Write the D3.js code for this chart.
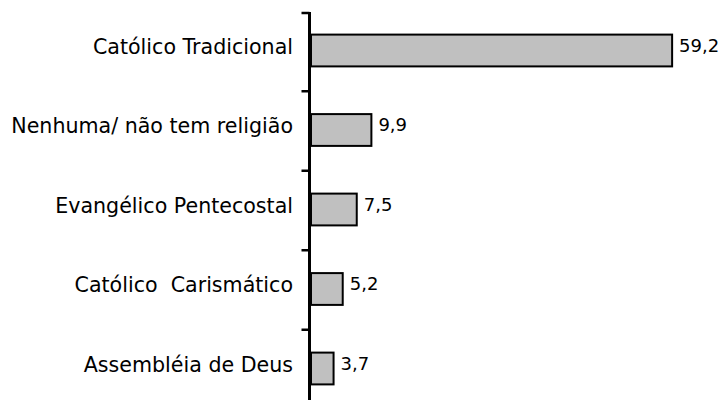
<!DOCTYPE html>
<html>
<head>
<meta charset="utf-8">
<script src="https://cdn.jsdelivr.net/npm/d3@7/dist/d3.min.js"></script>
<style>
  html, body { margin: 0; padding: 0; background: #ffffff; }
  svg { display: block; }
  text { font-family: "DejaVu Sans", Arial, sans-serif; fill: #000; white-space: pre; }
</style>
</head>
<body>
<svg id="chart" width="723" height="400"></svg>
<script>
// Religião declarada (%)
const categories = [
  "Católico Tradicional",
  "Nenhuma/ não tem religião",
  "Evangélico Pentecostal",
  "Católico  Carismático",
  "Assembléia de Deus"
];
const values = [59.2, 9.9, 7.5, 5.2, 3.7];
const valueLabels = ["59,2", "9,9", "7,5", "5,2", "3,7"];

const svg = d3.select("#chart");
const axisX = 309.5;
const axisTop = 12;

const x = d3.scaleLinear().domain([0, 60]).range([axisX + 1.5, 677]);
const y = d3.scaleBand()
  .domain(categories)
  .range([10.75, 408.25])
  .paddingInner(0.6)
  .paddingOuter(0.3);

const rows = categories.map((c, i) => ({ cat: c, v: values[i], label: valueLabels[i] }));

// Bars
svg.append("g").selectAll("rect")
  .data(rows)
  .join("rect")
  .attr("x", x(0))
  .attr("y", d => y(d.cat))
  .attr("width", d => x(d.v) - x(0))
  .attr("height", y.bandwidth())
  .attr("fill", "#c0c0c0")
  .attr("stroke", "#000")
  .attr("stroke-width", 2);

// Category axis line with ticks between categories
const step = y.step();
const boundaries = categories.map((c, i) => i === 0 ? axisTop : y(c) - (step - y.bandwidth()) / 2);

const axisG = svg.append("g");
axisG.append("line")
  .attr("x1", axisX).attr("x2", axisX)
  .attr("y1", axisTop).attr("y2", 400)
  .attr("stroke", "#000").attr("stroke-width", 3);
axisG.selectAll("line.tick")
  .data(boundaries)
  .join("line")
  .attr("class", "tick")
  .attr("x1", axisX - 8).attr("x2", axisX)
  .attr("y1", d => d + 1).attr("y2", d => d + 1)
  .attr("stroke", "#000").attr("stroke-width", 2.5);

// Category labels
svg.append("g").selectAll("text")
  .data(rows)
  .join("text")
  .attr("x", 293)
  .attr("y", d => y(d.cat) + y.bandwidth() / 2 + 3)
  .attr("text-anchor", "end")
  .style("font-size", "20.6px")
  .text(d => d.cat);

// Value labels
svg.append("g").selectAll("text")
  .data(rows)
  .join("text")
  .attr("x", d => x(d.v) + 7)
  .attr("y", d => y(d.cat) + y.bandwidth() / 2 + 1)
  .style("font-size", "18px")
  .text(d => d.label);
</script>
</body>
</html>
